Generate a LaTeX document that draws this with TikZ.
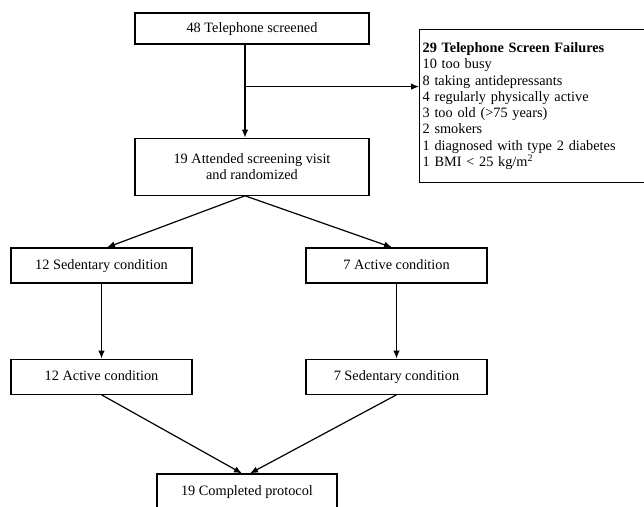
\documentclass[tikz,border=0pt]{standalone}
\usepackage{fontspec}
\setmainfont{Liberation Serif}
\usetikzlibrary{positioning,arrows.meta}
\tikzset{
  box/.style = {draw,line width=1.2pt,minimum height=35pt,inner sep=2pt,font=\fontsize{14.3}{16.3}\selectfont},
  cell/.style = {box,text height=10pt,text depth=3pt},
  arr/.style = {->,> = {Latex[length=8pt,width=6.5pt]},line width=1.2pt},
  arrin/.style = {<-,> = {Latex[length=8pt,width=6.5pt]},line width=1.2pt}
}
\newlength{\vgap}
\setlength{\vgap}{75pt}

\begin{document}
\begin{tikzpicture}[x=1pt,y=-1pt]
\useasboundingbox (0,0) rectangle (644,506);

\node[cell,minimum width=234pt,minimum height=31pt] (screened) at (252,28.5) {48 Telephone screened};

\node[box,minimum width=234pt,minimum height=57pt,align=center,below=93pt of screened] (visit) {19 Attended screening visit\\and randomized};

\node[box,anchor=north west,minimum height=153pt,text width=230pt,align=left,inner sep=3pt] (fail) at (419,29)
  {\textbf{29 Telephone Screen Failures}\\
   10 too busy\\
   8 taking antidepressants\\
   4 regularly physically active\\
   3 too old (>75 years)\\
   2 smokers\\
   1 diagnosed with type 2 diabetes\\
   1 BMI < 25 kg/m\textsuperscript{2}};

\node[cell,minimum width=181pt] (sedfirst) at (101.5,265.5) {12 Sedentary condition};
\node[cell,minimum width=181pt] (actfirst) at (396.5,265.5) {7 Active condition};

\node[cell,minimum width=181pt,below=\vgap of sedfirst] (actsecond) {12 Active condition}
  edge[arrin] (sedfirst);
\node[cell,minimum width=181pt,below=\vgap of actfirst] (sedsecond) {7 Sedentary condition}
  edge[arrin] (actfirst);

\node[cell,minimum width=180pt] (done) at (247,491.5) {19 Completed protocol};

% screening branch
\draw[arr] ([xshift=-7pt]screened.south) -- ([xshift=-7pt]screened.south |- visit.north);
\path ([xshift=-7pt]screened.south) ++(0,42) coordinate (split);
\draw[arr] (split) -- (split -| fail.west);

% randomization
\draw[arr] ([xshift=-7pt]visit.south) -- ([xshift=5.5pt]sedfirst.north);
\draw[arr] ([xshift=-7pt]visit.south) -- ([xshift=-4.5pt]actfirst.north);

% crossover
\draw[arr] (actsecond.south) -- ([xshift=-5pt]done.north);
\draw[arr] (sedsecond.south) -- ([xshift=3pt]done.north);
\end{tikzpicture}
\end{document}
